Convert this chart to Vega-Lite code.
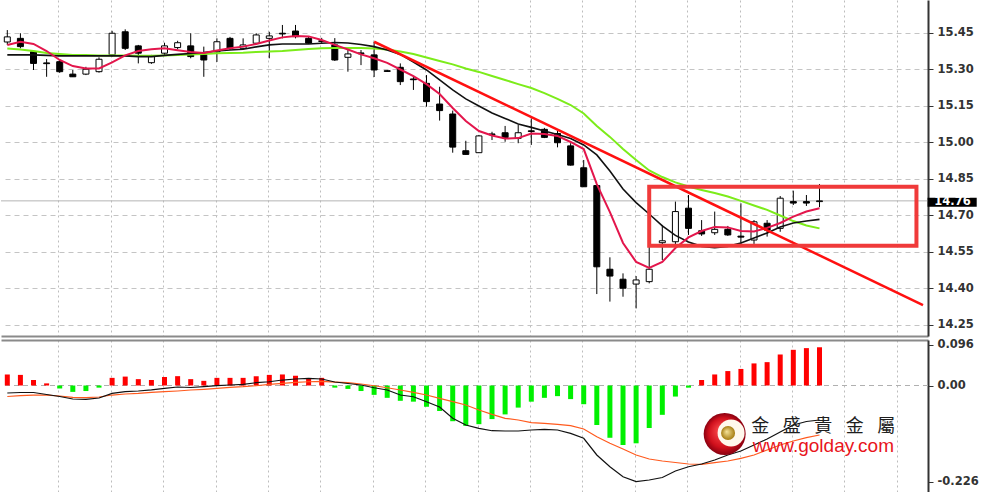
{
  "$schema": "https://vega.github.io/schema/vega-lite/v6.json",
  "padding": 0,
  "spacing": 4,
  "bounds": "flush",
  "background": "#ffffff",
  "config": {"view": {"stroke": null}},
  "datasets": {
    "bars": [
      {"i":0,"o":15.413,"h":15.462,"l":15.401,"c":15.434,"m1":15.401,"m2":15.360,"m3":15.386,"hs":0.026,"md":-0.0176,"sg":-0.0259},
      {"i":1,"o":15.428,"h":15.449,"l":15.387,"c":15.394,"m1":15.414,"m2":15.360,"m3":15.382,"hs":0.025,"md":-0.0165,"sg":-0.0240},
      {"i":2,"o":15.373,"h":15.380,"l":15.298,"c":15.325,"m1":15.405,"m2":15.360,"m3":15.376,"hs":0.013,"md":-0.0165,"sg":-0.0224},
      {"i":3,"o":15.327,"h":15.343,"l":15.270,"c":15.324,"m1":15.376,"m2":15.358,"m3":15.368,"hs":0.005,"md":-0.0212,"sg":-0.0224},
      {"i":4,"o":15.332,"h":15.343,"l":15.286,"c":15.291,"m1":15.339,"m2":15.356,"m3":15.364,"hs":-0.007,"md":-0.0259,"sg":-0.0247},
      {"i":5,"o":15.281,"h":15.298,"l":15.269,"c":15.270,"m1":15.314,"m2":15.356,"m3":15.360,"hs":-0.015,"md":-0.0318,"sg":-0.0278},
      {"i":6,"o":15.281,"h":15.311,"l":15.277,"c":15.301,"m1":15.304,"m2":15.356,"m3":15.360,"hs":-0.013,"md":-0.0325,"sg":-0.0287},
      {"i":7,"o":15.291,"h":15.350,"l":15.287,"c":15.342,"m1":15.304,"m2":15.356,"m3":15.358,"hs":-0.005,"md":-0.0294,"sg":-0.0271},
      {"i":8,"o":15.360,"h":15.459,"l":15.353,"c":15.449,"m1":15.329,"m2":15.356,"m3":15.358,"hs":0.018,"md":-0.0184,"sg":-0.0224},
      {"i":9,"o":15.455,"h":15.465,"l":15.380,"c":15.387,"m1":15.358,"m2":15.356,"m3":15.358,"hs":0.021,"md":-0.0146,"sg":-0.0200},
      {"i":10,"o":15.397,"h":15.401,"l":15.325,"c":15.367,"m1":15.376,"m2":15.353,"m3":15.356,"hs":0.015,"md":-0.0129,"sg":-0.0184},
      {"i":11,"o":15.328,"h":15.360,"l":15.323,"c":15.353,"m1":15.383,"m2":15.353,"m3":15.356,"hs":0.013,"md":-0.0101,"sg":-0.0160},
      {"i":12,"o":15.367,"h":15.410,"l":15.360,"c":15.397,"m1":15.387,"m2":15.358,"m3":15.358,"hs":0.020,"md":-0.0066,"sg":-0.0146},
      {"i":13,"o":15.390,"h":15.418,"l":15.383,"c":15.410,"m1":15.379,"m2":15.362,"m3":15.360,"hs":0.022,"md":-0.0035,"sg":-0.0129},
      {"i":14,"o":15.397,"h":15.449,"l":15.346,"c":15.353,"m1":15.372,"m2":15.366,"m3":15.362,"hs":0.015,"md":-0.0047,"sg":-0.0106},
      {"i":15,"o":15.360,"h":15.394,"l":15.270,"c":15.339,"m1":15.368,"m2":15.370,"m3":15.364,"hs":0.011,"md":-0.0028,"sg":-0.0089},
      {"i":16,"o":15.372,"h":15.428,"l":15.331,"c":15.414,"m1":15.378,"m2":15.376,"m3":15.367,"hs":0.018,"md":-0.0005,"sg":-0.0066},
      {"i":17,"o":15.428,"h":15.434,"l":15.380,"c":15.387,"m1":15.387,"m2":15.380,"m3":15.368,"hs":0.018,"md":0.0012,"sg":-0.0042},
      {"i":18,"o":15.387,"h":15.428,"l":15.383,"c":15.401,"m1":15.394,"m2":15.383,"m3":15.369,"hs":0.018,"md":0.0028,"sg":-0.0028},
      {"i":19,"o":15.408,"h":15.449,"l":15.405,"c":15.442,"m1":15.405,"m2":15.393,"m3":15.372,"hs":0.022,"md":0.0066,"sg":-0.0005},
      {"i":20,"o":15.428,"h":15.455,"l":15.346,"c":15.438,"m1":15.419,"m2":15.401,"m3":15.374,"hs":0.025,"md":0.0089,"sg":0.0028},
      {"i":21,"o":15.449,"h":15.483,"l":15.428,"c":15.446,"m1":15.432,"m2":15.405,"m3":15.376,"hs":0.026,"md":0.0129,"sg":0.0052},
      {"i":22,"o":15.458,"h":15.483,"l":15.428,"c":15.435,"m1":15.438,"m2":15.405,"m3":15.380,"hs":0.023,"md":0.0153,"sg":0.0075},
      {"i":23,"o":15.428,"h":15.435,"l":15.405,"c":15.408,"m1":15.436,"m2":15.405,"m3":15.384,"hs":0.017,"md":0.0169,"sg":0.0089},
      {"i":24,"o":15.415,"h":15.430,"l":15.405,"c":15.418,"m1":15.421,"m2":15.408,"m3":15.387,"hs":0.018,"md":0.0153,"sg":0.0099},
      {"i":25,"o":15.401,"h":15.429,"l":15.335,"c":15.339,"m1":15.401,"m2":15.411,"m3":15.388,"hs":-0.005,"md":0.0082,"sg":0.0082},
      {"i":26,"o":15.350,"h":15.380,"l":15.291,"c":15.364,"m1":15.382,"m2":15.409,"m3":15.388,"hs":-0.008,"md":0.0047,"sg":0.0066},
      {"i":27,"o":15.368,"h":15.380,"l":15.318,"c":15.365,"m1":15.362,"m2":15.403,"m3":15.388,"hs":-0.013,"md":0.0012,"sg":0.0035},
      {"i":28,"o":15.360,"h":15.413,"l":15.269,"c":15.298,"m1":15.346,"m2":15.394,"m3":15.386,"hs":-0.022,"md":-0.0052,"sg":-0.0005},
      {"i":29,"o":15.295,"h":15.298,"l":15.290,"c":15.292,"m1":15.327,"m2":15.380,"m3":15.382,"hs":-0.029,"md":-0.0106,"sg":-0.0052},
      {"i":30,"o":15.309,"h":15.325,"l":15.236,"c":15.250,"m1":15.300,"m2":15.362,"m3":15.374,"hs":-0.036,"md":-0.0224,"sg":-0.0106},
      {"i":31,"o":15.261,"h":15.273,"l":15.216,"c":15.258,"m1":15.273,"m2":15.331,"m3":15.364,"hs":-0.038,"md":-0.0264,"sg":-0.0160},
      {"i":32,"o":15.243,"h":15.277,"l":15.147,"c":15.168,"m1":15.240,"m2":15.298,"m3":15.349,"hs":-0.050,"md":-0.0381,"sg":-0.0224},
      {"i":33,"o":15.158,"h":15.229,"l":15.090,"c":15.131,"m1":15.199,"m2":15.257,"m3":15.335,"hs":-0.060,"md":-0.0506,"sg":-0.0301},
      {"i":34,"o":15.117,"h":15.131,"l":14.958,"c":14.981,"m1":15.142,"m2":15.216,"m3":15.321,"hs":-0.084,"md":-0.0772,"sg":-0.0381},
      {"i":35,"o":14.966,"h":15.007,"l":14.950,"c":14.951,"m1":15.088,"m2":15.179,"m3":15.304,"hs":-0.095,"md":-0.0929,"sg":-0.0459},
      {"i":36,"o":14.958,"h":15.031,"l":14.957,"c":15.027,"m1":15.047,"m2":15.150,"m3":15.290,"hs":-0.091,"md":-0.1007,"sg":-0.0576},
      {"i":37,"o":15.035,"h":15.044,"l":15.010,"c":15.032,"m1":15.029,"m2":15.121,"m3":15.273,"hs":-0.079,"md":-0.1064,"sg":-0.0678},
      {"i":38,"o":15.040,"h":15.068,"l":15.003,"c":15.020,"m1":15.016,"m2":15.099,"m3":15.257,"hs":-0.068,"md":-0.1071,"sg":-0.0772},
      {"i":39,"o":15.017,"h":15.072,"l":14.997,"c":15.040,"m1":15.018,"m2":15.076,"m3":15.240,"hs":-0.052,"md":-0.1071,"sg":-0.0812},
      {"i":40,"o":15.048,"h":15.099,"l":14.990,"c":15.045,"m1":15.037,"m2":15.062,"m3":15.224,"hs":-0.038,"md":-0.1047,"sg":-0.0875},
      {"i":41,"o":15.054,"h":15.060,"l":15.018,"c":15.021,"m1":15.035,"m2":15.047,"m3":15.203,"hs":-0.029,"md":-0.1031,"sg":-0.0889},
      {"i":42,"o":15.037,"h":15.048,"l":14.980,"c":14.999,"m1":15.027,"m2":15.033,"m3":15.179,"hs":-0.025,"md":-0.1047,"sg":-0.0913},
      {"i":43,"o":14.986,"h":14.997,"l":14.905,"c":14.907,"m1":15.002,"m2":15.016,"m3":15.154,"hs":-0.032,"md":-0.1125,"sg":-0.0946},
      {"i":44,"o":14.896,"h":14.928,"l":14.817,"c":14.818,"m1":14.973,"m2":14.990,"m3":15.119,"hs":-0.044,"md":-0.1242,"sg":-0.1024},
      {"i":45,"o":14.823,"h":14.825,"l":14.377,"c":14.489,"m1":14.829,"m2":14.949,"m3":15.068,"hs":-0.093,"md":-0.1635,"sg":-0.1205},
      {"i":46,"o":14.479,"h":14.528,"l":14.346,"c":14.451,"m1":14.714,"m2":14.883,"m3":15.023,"hs":-0.123,"md":-0.1911,"sg":-0.1360},
      {"i":47,"o":14.438,"h":14.462,"l":14.366,"c":14.401,"m1":14.587,"m2":14.809,"m3":14.973,"hs":-0.140,"md":-0.2146,"sg":-0.1494},
      {"i":48,"o":14.418,"h":14.451,"l":14.318,"c":14.435,"m1":14.509,"m2":14.753,"m3":14.928,"hs":-0.136,"md":-0.2260,"sg":-0.1635},
      {"i":49,"o":14.428,"h":14.599,"l":14.421,"c":14.479,"m1":14.484,"m2":14.706,"m3":14.885,"hs":-0.100,"md":-0.2224,"sg":-0.1729},
      {"i":50,"o":14.588,"h":14.661,"l":14.517,"c":14.596,"m1":14.509,"m2":14.657,"m3":14.858,"hs":-0.069,"md":-0.2165,"sg":-0.1776},
      {"i":51,"o":14.592,"h":14.757,"l":14.565,"c":14.716,"m1":14.566,"m2":14.618,"m3":14.836,"hs":-0.026,"md":-0.2012,"sg":-0.1812},
      {"i":52,"o":14.730,"h":14.784,"l":14.620,"c":14.647,"m1":14.610,"m2":14.591,"m3":14.819,"hs":-0.005,"md":-0.1911,"sg":-0.1847},
      {"i":53,"o":14.637,"h":14.681,"l":14.616,"c":14.624,"m1":14.636,"m2":14.573,"m3":14.805,"hs":0.013,"md":-0.1847,"sg":-0.1854},
      {"i":54,"o":14.629,"h":14.716,"l":14.620,"c":14.643,"m1":14.653,"m2":14.568,"m3":14.792,"hs":0.026,"md":-0.1753,"sg":-0.1816},
      {"i":55,"o":14.643,"h":14.657,"l":14.616,"c":14.620,"m1":14.651,"m2":14.573,"m3":14.778,"hs":0.034,"md":-0.1635,"sg":-0.1776},
      {"i":56,"o":14.615,"h":14.750,"l":14.579,"c":14.611,"m1":14.636,"m2":14.587,"m3":14.760,"hs":0.039,"md":-0.1541,"sg":-0.1713},
      {"i":57,"o":14.599,"h":14.681,"l":14.583,"c":14.674,"m1":14.634,"m2":14.607,"m3":14.741,"hs":0.052,"md":-0.1400,"sg":-0.1635},
      {"i":58,"o":14.668,"h":14.681,"l":14.613,"c":14.640,"m1":14.649,"m2":14.628,"m3":14.723,"hs":0.055,"md":-0.1259,"sg":-0.1518},
      {"i":59,"o":14.647,"h":14.780,"l":14.633,"c":14.771,"m1":14.669,"m2":14.653,"m3":14.700,"hs":0.073,"md":-0.1094,"sg":-0.1400},
      {"i":60,"o":14.757,"h":14.802,"l":14.743,"c":14.751,"m1":14.695,"m2":14.669,"m3":14.677,"hs":0.084,"md":-0.0929,"sg":-0.1306},
      {"i":61,"o":14.757,"h":14.784,"l":14.739,"c":14.751,"m1":14.716,"m2":14.677,"m3":14.659,"hs":0.088,"md":-0.0847,"sg":-0.1228},
      {"i":62,"o":14.757,"h":14.829,"l":14.734,"c":14.760,"m1":14.730,"m2":14.684,"m3":14.647,"hs":0.090,"md":-0.0812,"sg":-0.1165}
    ],
    "trend": [
      {"i": 28, "p": 15.414},
      {"i": 69.9, "p": 14.332}
    ]
  },
  "vconcat": [
    {
      "width": 927,
      "height": 336,
      "layer": [
        {
          "data": {"values": [{}]},
          "mark": {"type": "rule", "color": "#b4b4b4", "strokeWidth": 1},
          "encoding": {
            "y": {
              "datum": 14.76, "type": "quantitative",
              "scale": {"domain": [14.2046, 15.5856], "nice": false, "zero": false},
              "axis": {
                "orient": "right", "title": null,
                "values": [14.25, 14.4, 14.55, 14.7, 14.85, 15, 15.15, 15.3, 15.45],
                "format": ".2f",
                "grid": true, "gridColor": "#c4c4c4", "gridDash": [5, 4], "gridWidth": 1,
                "domainColor": "#333333", "domainWidth": 2,
                "tickColor": "#333333", "tickSize": 5, "tickWidth": 1,
                "labelPadding": 4, "labelFont": "DejaVu Sans", "labelFontWeight": "bold",
                "labelFontSize": 11.5, "labelColor": "#333333"
              }
            }
          }
        },
        {
          "data": {"name": "bars"},
          "mark": {"type": "rule", "color": "#000000", "strokeWidth": 1, "clip": true},
          "encoding": {
            "x": {
              "field": "i", "type": "quantitative",
              "scale": {"domain": [-0.1, 69.9], "nice": false, "zero": false},
              "axis": {
                "orient": "bottom", "title": null,
                "values": [3.9, 7.9, 11.9, 15.9, 19.9, 23.9, 27.9, 31.9, 35.9, 39.9, 43.9, 47.9, 51.9, 55.9, 59.9, 63.9, 67.9],
                "grid": true, "gridColor": "#bdbdbd", "gridDash": [2, 3], "gridWidth": 1,
                "labels": false, "ticks": false,
                "domain": true, "domainColor": "#8a8a8a", "domainWidth": 2
              }
            },
            "y": {"field": "l", "type": "quantitative"},
            "y2": {"field": "h"}
          }
        },
        {
          "data": {"name": "bars"},
          "mark": {"type": "bar", "width": 6, "stroke": "#000000", "strokeWidth": 1, "clip": true},
          "encoding": {
            "x": {"field": "i", "type": "quantitative"},
            "y": {"field": "o", "type": "quantitative"},
            "y2": {"field": "c"},
            "fill": {"condition": {"test": "datum.c > datum.o", "value": "#ffffff"}, "value": "#000000"}
          }
        },
        {
          "data": {"name": "bars"},
          "mark": {"type": "line", "color": "#7cec1a", "strokeWidth": 2, "clip": true},
          "encoding": {
            "x": {"field": "i", "type": "quantitative"},
            "y": {"field": "m3", "type": "quantitative"}
          }
        },
        {
          "data": {"name": "bars"},
          "mark": {"type": "line", "color": "#111111", "strokeWidth": 1.6, "clip": true},
          "encoding": {
            "x": {"field": "i", "type": "quantitative"},
            "y": {"field": "m2", "type": "quantitative"}
          }
        },
        {
          "data": {"name": "bars"},
          "mark": {"type": "line", "color": "#e3164c", "strokeWidth": 2, "clip": true},
          "encoding": {
            "x": {"field": "i", "type": "quantitative"},
            "y": {"field": "m1", "type": "quantitative"}
          }
        },
        {
          "data": {"name": "trend"},
          "mark": {"type": "line", "color": "#ff1010", "strokeWidth": 2.5, "clip": true},
          "encoding": {
            "x": {"field": "i", "type": "quantitative"},
            "y": {"field": "p", "type": "quantitative"}
          }
        },
        {
          "data": {"values": [{}]},
          "mark": {"type": "rect", "fillOpacity": 0, "stroke": "#f03a3a", "strokeWidth": 4, "clip": false},
          "encoding": {
            "x": {"datum": 49.0, "type": "quantitative"},
            "x2": {"datum": 69.4},
            "y": {"datum": 14.818, "type": "quantitative"},
            "y2": {"datum": 14.576}
          }
        },
        {
          "data": {"values": [{}]},
          "mark": {"type": "rect", "fill": "#000000", "clip": false},
          "encoding": {
            "x": {"datum": 70.25, "type": "quantitative"},
            "x2": {"datum": 74.0},
            "y": {"datum": 14.773, "type": "quantitative"},
            "y2": {"datum": 14.736}
          }
        },
        {
          "data": {"values": [{}]},
          "mark": {"type": "text", "text": "14.76", "color": "#ffffff", "font": "DejaVu Sans", "fontWeight": "bold", "fontSize": 11.5, "align": "center", "baseline": "middle", "clip": false},
          "encoding": {
            "x": {"datum": 72.15, "type": "quantitative"},
            "y": {"datum": 14.7546, "type": "quantitative"}
          }
        }
      ]
    },
    {
      "width": 927,
      "height": 152,
      "layer": [
        {
          "data": {"values": [{}]},
          "mark": {"type": "rule", "color": "#b0b0b0", "strokeWidth": 1, "strokeDash": [5, 4]},
          "encoding": {
            "y": {
              "datum": 0, "type": "quantitative",
              "scale": {"domain": [-0.2506, 0.1071], "nice": false, "zero": false},
              "axis": {
                "orient": "right", "title": null,
                "values": [-0.226, 0, 0.096],
                "labelExpr": "datum.value == 0 ? '0.00' : (datum.value < 0 ? '-0.226' : '0.096')",
                "grid": false,
                "domainColor": "#333333", "domainWidth": 2,
                "tickColor": "#333333", "tickSize": 5, "tickWidth": 1,
                "labelPadding": 4, "labelFont": "DejaVu Sans", "labelFontWeight": "bold",
                "labelFontSize": 11.5, "labelColor": "#333333"
              }
            }
          }
        },
        {
          "data": {"name": "bars"},
          "mark": {"type": "bar", "width": 5, "clip": true},
          "encoding": {
            "x": {
              "field": "i", "type": "quantitative",
              "scale": {"domain": [-0.1, 69.9], "nice": false, "zero": false},
              "axis": {
                "orient": "top", "title": null,
                "values": [3.9, 7.9, 11.9, 15.9, 19.9, 23.9, 27.9, 31.9, 35.9, 39.9, 43.9, 47.9, 51.9, 55.9, 59.9, 63.9, 67.9],
                "grid": true, "gridColor": "#bdbdbd", "gridDash": [2, 3], "gridWidth": 1,
                "labels": false, "ticks": false,
                "domain": true, "domainColor": "#8a8a8a", "domainWidth": 2
              }
            },
            "y": {"field": "hs", "type": "quantitative"},
            "y2": {"datum": 0},
            "color": {"condition": {"test": "datum.hs > 0", "value": "#ff0000"}, "value": "#00f000"}
          }
        },
        {
          "data": {"name": "bars"},
          "mark": {"type": "line", "color": "#ff5a1e", "strokeWidth": 1.2, "clip": true},
          "encoding": {
            "x": {"field": "i", "type": "quantitative"},
            "y": {"field": "sg", "type": "quantitative"}
          }
        },
        {
          "data": {"name": "bars"},
          "mark": {"type": "line", "color": "#111111", "strokeWidth": 1.2, "clip": true},
          "encoding": {
            "x": {"field": "i", "type": "quantitative"},
            "y": {"field": "md", "type": "quantitative"}
          }
        },
        {
          "data": {"values": [{}]},
          "mark": {
            "type": "point", "shape": "circle", "filled": true, "size": 1764, "opacity": 1, "clip": false,
            "color": {"gradient": "radial", "x1": 0.4, "y1": 0.4, "r1": 0, "x2": 0.5, "y2": 0.5, "r2": 0.5,
              "stops": [{"offset": 0, "color": "#ff5050"}, {"offset": 0.7, "color": "#d0101c"}, {"offset": 1, "color": "#8a0010"}]}
          },
          "encoding": {
            "x": {"datum": 54.76, "type": "quantitative"},
            "y": {"datum": -0.1141, "type": "quantitative"}
          }
        },
        {
          "data": {"values": [{}]},
          "mark": {"type": "point", "shape": "circle", "filled": true, "size": 729, "opacity": 1, "color": "#fff8ec", "clip": false},
          "encoding": {
            "x": {"datum": 55.25, "type": "quantitative"},
            "y": {"datum": -0.1118, "type": "quantitative"}
          }
        },
        {
          "data": {"values": [{}]},
          "mark": {
            "type": "point", "shape": "circle", "filled": true, "size": 196, "opacity": 1, "clip": false,
            "color": {"gradient": "radial", "x1": 0.4, "y1": 0.4, "r1": 0, "x2": 0.5, "y2": 0.5, "r2": 0.5,
              "stops": [{"offset": 0, "color": "#f6e39a"}, {"offset": 1, "color": "#a67c10"}]}
          },
          "encoding": {
            "x": {"datum": 55.02, "type": "quantitative"},
            "y": {"datum": -0.1118, "type": "quantitative"}
          }
        },
        {
          "data": {"values": [{}]},
          "mark": {"type": "text", "text": "金\u2002\u2005盛\u2002\u2005貴\u2002\u2005金\u2002\u2005屬", "font": "Noto Sans CJK TC", "fontSize": 18, "color": "#1e1e1e", "align": "left", "baseline": "alphabetic", "clip": false},
          "encoding": {
            "x": {"datum": 56.78, "type": "quantitative"},
            "y": {"datum": -0.1094, "type": "quantitative"}
          }
        },
        {
          "data": {"values": [{}]},
          "mark": {"type": "text", "text": "www.golday.com", "font": "Liberation Sans", "fontSize": 19, "color": "#e8141c", "align": "left", "baseline": "alphabetic", "clip": false},
          "encoding": {
            "x": {"datum": 56.91, "type": "quantitative"},
            "y": {"datum": -0.1565, "type": "quantitative"}
          }
        }
      ]
    }
  ]
}
